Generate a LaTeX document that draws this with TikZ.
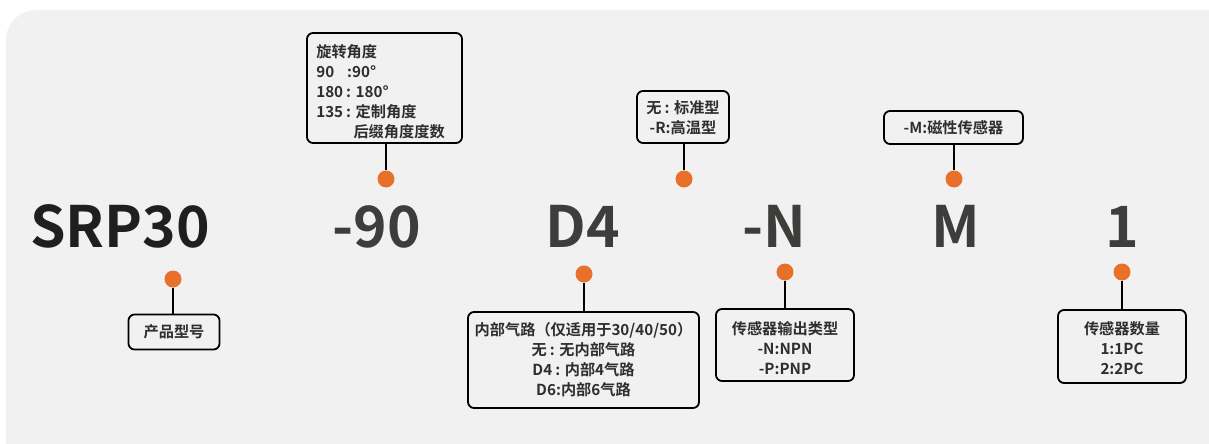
\documentclass[tikz,border=0pt]{standalone}
\usepackage{fontspec}
\setmainfont{Noto Sans CJK SC}[BoldFont={Noto Sans CJK SC Bold}]
\definecolor{bg}{HTML}{F1F1F1}
\definecolor{dotc}{HTML}{E8702A}
\definecolor{big}{HTML}{3D3D3B}
\definecolor{bigdark}{HTML}{1E2020}
\definecolor{txt}{HTML}{2E2E2E}
\newcommand{\wc}{\hspace{0.2em}:\hspace{0.3em}}
\begin{document}
\begin{tikzpicture}[x=1pt,y=-1pt,
  lbl/.style={draw=black, line width=1.8pt, rounded corners=6pt, fill=bg, inner sep=0pt},
  lbltext/.style={font=\bfseries\fontsize{15.2}{20}\selectfont, text=txt, inner sep=0pt, align=center},
  bigtxt/.style={font=\bfseries\fontsize{57}{57}\selectfont, text=big, anchor=base, inner sep=0pt},
  pin/.style={circle, fill=dotc, minimum size=17pt, inner sep=0pt},
  conn/.style={line width=2.4pt, black}]
\useasboundingbox (0,0) rectangle (1209,444);
\clip (0,0) rectangle (1209,444);
\fill[white] (0,0) rectangle (1209,444);
\fill[bg, rounded corners=30pt] (6,10) rectangle (1240,480);

% big code parts
\node[bigtxt, text=bigdark] (t1) at (120,247) {SRP30};
\node[bigtxt] (t2) at (377,247) {-90};
\node[bigtxt] (t3) at (583,247) {D4};
\node[bigtxt] (t4) at (774,247) {-N};
\node[bigtxt] (t5) at (956,247) {M};
\node[bigtxt] (t6) at (1122,247) {1};

% label boxes
\node[lbl, minimum width=91pt, minimum height=35pt] (b1) at (174,332) {};
\node[lbltext] (b1t) at (b1.center) {产品型号};

\node[lbl, minimum width=155pt, minimum height=110pt] (b2) at (384.5,88) {};
\node[lbltext, align=left, anchor=west] (b2t) at ([xshift=10pt,yshift=-4pt]b2.west)
  {旋转角度\\90\hspace{0.85em}:90°\\180\wc 180°\\135\wc 定制角度\\\hspace*{2.45em}后缀角度度数};

\node[lbl, minimum width=92pt, minimum height=52pt] (b3) at (683,117) {};
\node[lbltext] (b3t) at ([yshift=-1pt]b3.center) {无\wc 标准型\\-R:高温型};

\node[lbl, minimum width=139pt, minimum height=33pt] (b4) at (953.5,127.5) {};
\node[lbltext] (b4t) at ([yshift=-0.5pt]b4.center) {-M:磁性传感器};

\node[lbl, minimum width=231pt, minimum height=96pt] (b5) at (583.5,360) {};
\node[lbltext] (b5t) at (b5.center) {内部气路（仅适用于30/40/50）\\无\wc 无内部气路\\D4\wc 内部4气路\\D6:内部6气路};

\node[lbl, minimum width=138pt, minimum height=72pt] (b6) at (785,345) {};
\node[lbltext] (b6t) at ([yshift=-3pt]b6.center) {传感器输出类型\\-N:NPN\\-P:PNP};

\node[lbl, minimum width=128pt, minimum height=73pt] (b7) at (1122,346.5) {};
\node[lbltext] (b7t) at ([yshift=-2pt]b7.center) {传感器数量\\1:1PC\\2:2PC};

% pins
\node[pin] (p1) at (173,279) {};
\node[pin] (p2) at (386,179) {};
\node[pin] (p3) at (684,179) {};
\node[pin] (p4) at (954,179) {};
\node[pin] (p5) at (584,274) {};
\node[pin] (p6) at (785,272) {};
\node[pin] (p7) at (1122,272) {};

% connectors
\draw[conn] (p1.south) -- (p1.south |- b1.north);
\draw[conn] (p2.north) -- (p2.north |- b2.south);
\draw[conn] (p3.north) -- (p3.north |- b3.south);
\draw[conn] (p4.north) -- (p4.north |- b4.south);
\draw[conn] (p5.south) -- (p5.south |- b5.north);
\draw[conn] (p6.south) -- (p6.south |- b6.north);
\draw[conn] (p7.south) -- (p7.south |- b7.north);
\end{tikzpicture}
\end{document}
